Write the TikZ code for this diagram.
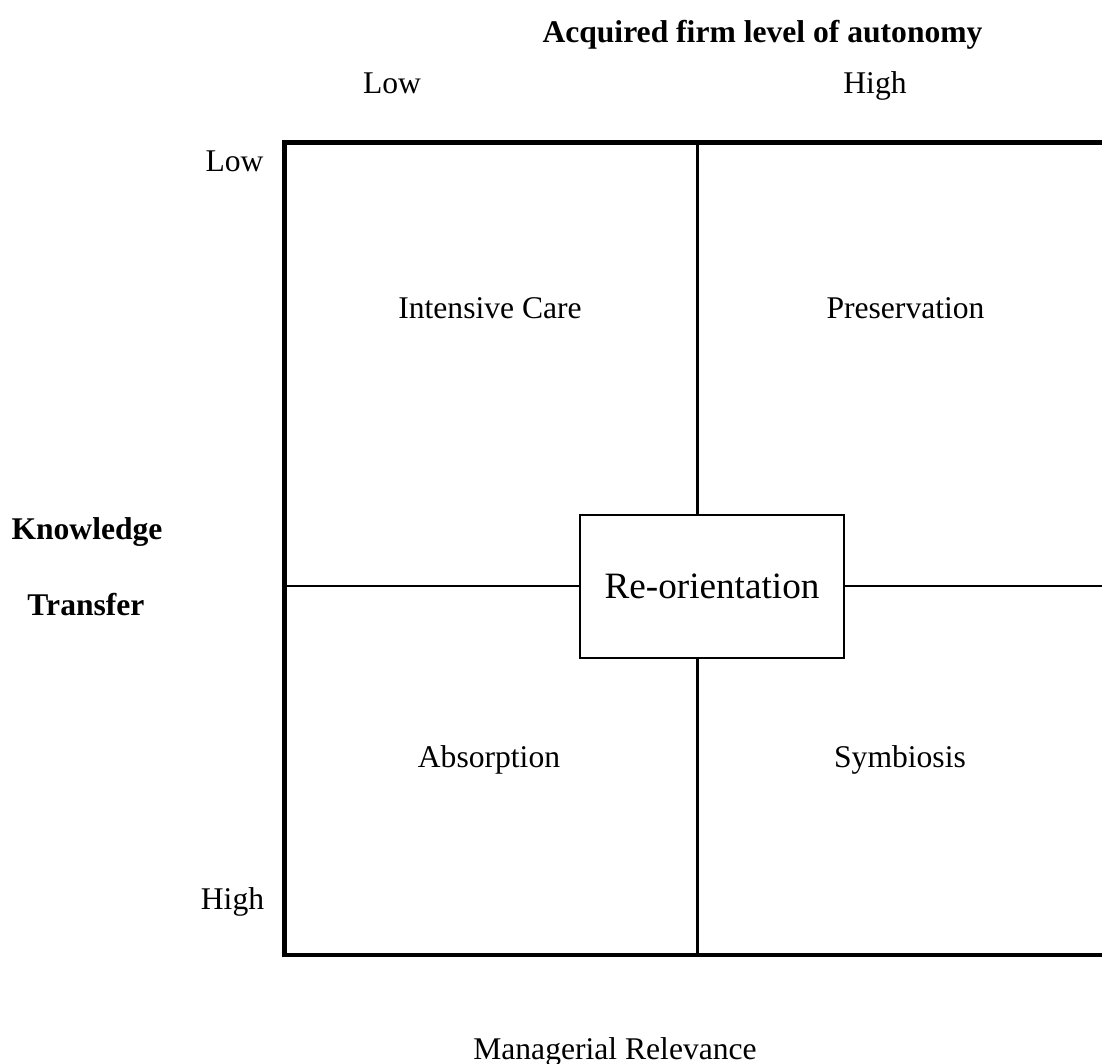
\documentclass[tikz,border=0pt]{standalone}
\usepackage{fontspec}
\setmainfont{Liberation Serif}
\begin{document}
\begin{tikzpicture}[x=1pt,y=-1pt,
  lbl/.style={anchor=base,inner sep=0pt,font=\fontsize{31.6}{38}\selectfont},
  blbl/.style={lbl,font=\fontsize{31.6}{38}\selectfont\bfseries},
  outer/.style={line width=4.5pt,line join=miter},
  divider/.style={line width=2.5pt},
  reobox/.style={draw,line width=2.3pt,minimum width=264pt,minimum height=143pt,inner sep=0pt,
    font=\fontsize{37.2}{44}\selectfont,fill=white}]
\clip (0,0) rectangle (1102,1064);
\fill[white] (0,0) rectangle (1102,1064);
% axis labels
\node[blbl] (title) at (762.5,43) {Acquired firm level of autonomy};
\node[lbl] (lowtop) at (392,94) {Low};
\node[lbl] (hightop) at (875,94) {High};
\node[lbl] (lowleft) at (234.5,172) {Low};
\node[lbl] (highleft) at (232.5,909) {High};
\node[blbl] (know) at (87,539) {Knowledge};
\node[blbl] (transf) at (86,615) {Transfer};
\node[lbl] (manrel) at (615,1059) {Managerial Relevance};
% grid
\coordinate (tl) at (284.5,142.5);
\coordinate (br) at (1110,955);
\coordinate (vt) at (697.5,142.5);
\coordinate (vb) at (697.5,955);
\coordinate (hl) at (284.5,586);
\coordinate (hr) at (1110,586);
\node[reobox] (reo) at (712,586.5) {Re-orientation};
\draw[divider] (vt) -- (vt |- reo.north);
\draw[divider] (vb |- reo.south) -- (vb);
\draw[divider] (hl) -- (hl -| reo.west);
\draw[divider] (hr -| reo.east) -- (hr);
\draw[outer] (tl) rectangle (br);
% quadrant labels
\node[lbl] (ic) at (490,319) {Intensive Care};
\node[lbl] (pres) at (905.5,319) {Preservation};
\node[lbl] (abs) at (489,767) {Absorption};
\node[lbl] (sym) at (900,767) {Symbiosis};
\end{tikzpicture}
\end{document}
